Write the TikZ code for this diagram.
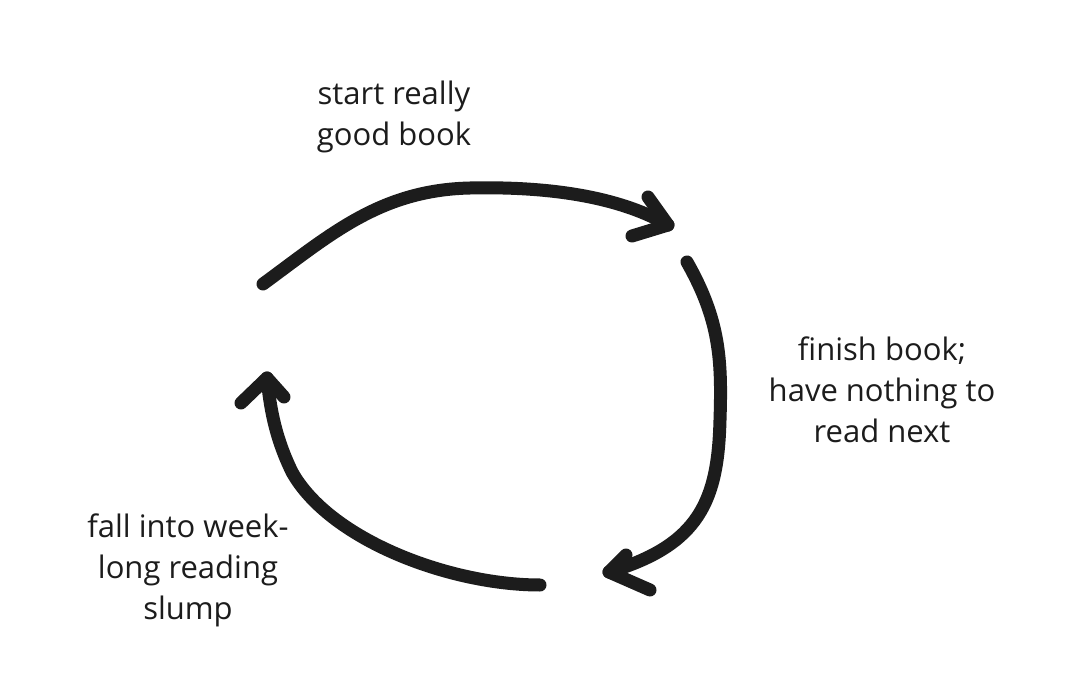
\documentclass[tikz,border=0pt]{standalone}
\usepackage{fontspec}
\setmainfont{Open Sans}
\definecolor{ink}{HTML}{1C1C1C}
\begin{document}
\begin{tikzpicture}[x=1pt,y=-1pt,
  stroke/.style={draw=ink,line width=13pt,line cap=round,line join=round},
  label/.style={text=ink,align=center,font=\fontsize{31}{41}\selectfont}]
\useasboundingbox[fill=white] (0,0) rectangle (1072,695);
% labels
\node[label] (t1) at (394,117) {start really\\good book};
\node[label] (t2) at (882,390) {finish book;\\have nothing to\\read next};
\node[label] (t3) at (188,570) {fall into week-\\long reading\\slump};
% arrow 1
\coordinate (a1s) at (263,284);
\coordinate (a1e) at (668,225);
\draw[stroke] (a1s) .. controls (330,235) and (380,190) .. (470,188)
  .. controls (560,186) and (625,200) .. (a1e);
\coordinate (h1a) at (648,197);
\coordinate (h1b) at (632,236);
\draw[stroke] (h1a) -- (a1e) -- (h1b);
% arrow 2
\coordinate (a2s) at (687,262);
\coordinate (a2e) at (609,572);
\draw[stroke] (a2s) .. controls (720,320) and (722,360) .. (720,420)
  .. controls (718,500) and (700,545) .. (a2e);
\coordinate (h2a) at (626,555);
\coordinate (h2b) at (650,590);
\draw[stroke] (h2a) -- (a2e) -- (h2b);
% arrow 3
\coordinate (a3s) at (540,585);
\coordinate (a3e) at (267,378);
\draw[stroke] (a3s) .. controls (450,585) and (330,540) .. (292,472)
  .. controls (274,435) and (270,405) .. (a3e);
\coordinate (h3a) at (241,403);
\coordinate (h3b) at (284,397);
\draw[stroke] (h3a) -- (a3e) -- (h3b);
\end{tikzpicture}
\end{document}
